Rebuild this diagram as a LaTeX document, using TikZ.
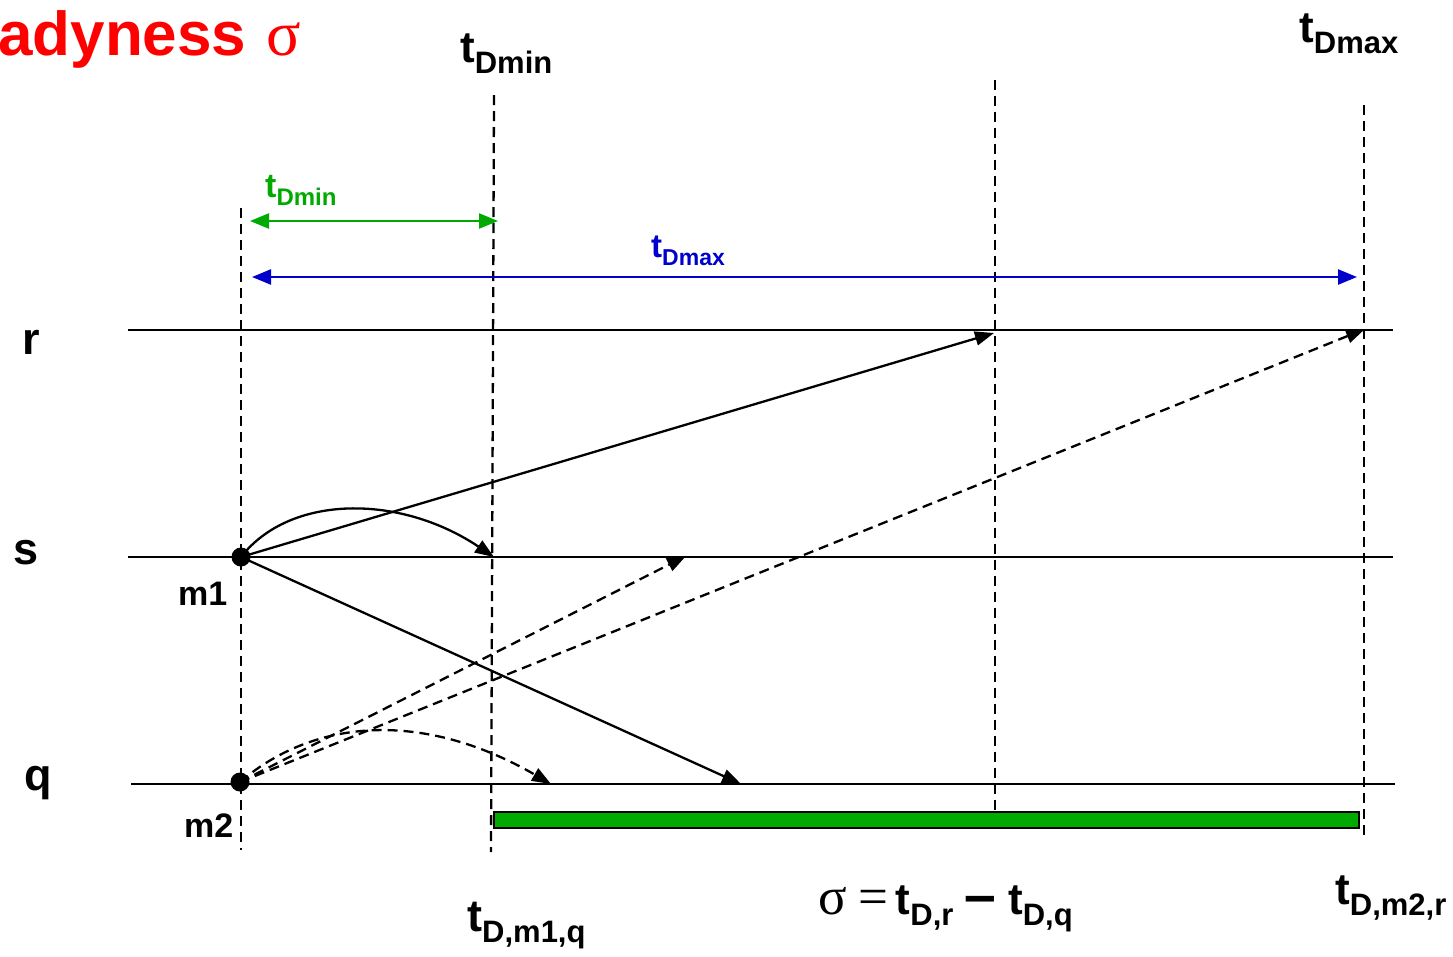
\documentclass[tikz,border=0pt]{standalone}
\usepackage{fontspec}
\setmainfont{Liberation Sans}
\newfontfamily\serifsym{Liberation Serif}
\usetikzlibrary{arrows.meta}
\definecolor{myred}{RGB}{255,0,0}
\definecolor{mygreen}{RGB}{0,170,0}
\definecolor{myblue}{RGB}{0,0,204}
\newcommand\fs[1]{\fontsize{#1}{#1}\selectfont}
\newcommand\tl[3]{{\fs{#1}t\raisebox{-0.25em}{\fs{#2}#3}}}
\begin{document}
\begin{tikzpicture}[x=1pt,y=-1pt,
  lbl/.style={inner sep=0pt, anchor=base west, font=\bfseries},
  lane/.style={line width=2.6pt},
  guide/.style={line width=2.3pt, dash pattern=on 10pt off 6pt},
  msg/.style={line width=2.3pt, -{Triangle[length=19pt,width=14pt]}},
  dmsg/.style={msg, dash pattern=on 10pt off 6pt},
  dot/.style={circle, fill=black, inner sep=0pt, minimum size=19pt},
  spanarrow/.style={line width=2.4pt, {Triangle[length=19pt,width=15pt]}-{Triangle[length=19pt,width=15pt]}}]
\useasboundingbox (0,0) rectangle (1453,956);

% vertical guides
\coordinate (g1t) at (241,208); \coordinate (g1b) at (241,850);
\coordinate (g2t) at (494,95);  \coordinate (g2b) at (491,852);
\coordinate (g3t) at (995,80);  \coordinate (g3b) at (995,810);
\coordinate (g4t) at (1364,105); \coordinate (g4b) at (1364,840);
\draw[guide] (g1t) -- (g1b);
\draw[guide] (g2t) -- (g2b);
\draw[guide] (g3t) -- (g3b);
\draw[guide] (g4t) -- (g4b);

% lanes
\coordinate (rL) at (128,330); \coordinate (rR) at (1393,330);
\coordinate (sL) at (128,557); \coordinate (sR) at (1393,557);
\coordinate (qL) at (131,784); \coordinate (qR) at (1395,784);
\draw[lane] (rL) -- (rR);
\draw[lane] (sL) -- (sR);
\draw[lane] (qL) -- (qR);

% green bar
\draw[fill=mygreen, line width=2pt] (494,812) rectangle (1359,828);

% spans
\coordinate (gA) at (250,221); \coordinate (gB) at (498,221);
\coordinate (bA) at (252,277); \coordinate (bB) at (1357,277);
\draw[spanarrow, mygreen] (gA) -- (gB);
\draw[spanarrow, myblue] (bA) -- (bB);

% dots
\node[dot] (m1) at (241,557) {};
\node[dot] (m2) at (240,782) {};

% messages
\coordinate (rHit1) at (994,333);
\coordinate (sHit1) at (494,557);
\coordinate (qHit1) at (741,784);
\coordinate (sHit2) at (686,556);
\coordinate (rHit2) at (1365,329);
\coordinate (qHit2) at (551,784);
\draw[msg] (m1.center) -- (rHit1);
\draw[msg] (m1.center) .. controls (290,494) and (400,494) .. (sHit1);
\draw[msg] (m1.center) -- (qHit1);
\draw[dmsg] (m2.center) -- (sHit2);
\draw[dmsg] (m2.center) -- (rHit2);
\draw[dmsg] (m2.center) .. controls (320,714) and (430,714) .. (qHit2);

% labels
\node[lbl, text=myred] (title) at (-2,55) {\fs{62}adyness\hspace{0.33em}{\serifsym\mdseries\fs{64}σ}};
\node[lbl] (tmintop) at (460,62) {\tl{44}{31}{Dmin}};
\node[lbl] (tmaxtop) at (1299,42) {\tl{44}{31}{Dmax}};
\node[lbl, text=mygreen] (tminlbl) at (265,197) {\tl{34}{24}{Dmin}};
\node[lbl, text=myblue] (tmaxlbl) at (651,257) {\tl{33}{23}{Dmax}};
\node[lbl] (rl) at (22,354) {\fs{45}r};
\node[lbl] (sl) at (13,564) {\fs{45}s};
\node[lbl] (ql) at (24,790) {\fs{45}q};
\node[lbl] (m1l) at (178,605) {\fs{34}m1};
\node[lbl] (m2l) at (184,837) {\fs{34}m2};
\node[lbl] (tm1q) at (467,931) {\tl{45}{31}{D,m1,q}};
\node[lbl] (tm2r) at (1335,904) {\tl{44}{31}{D,m2,r}};
\node[lbl] (sigma) at (818,914) {{\serifsym\mdseries\fs{53}σ\hspace{0.22em}=\hspace{0.14em}}\tl{44}{31}{D,r}\hspace{11pt}{\fs{57}–}\hspace{12pt}\tl{44}{31}{D,q}};
\end{tikzpicture}
\end{document}
